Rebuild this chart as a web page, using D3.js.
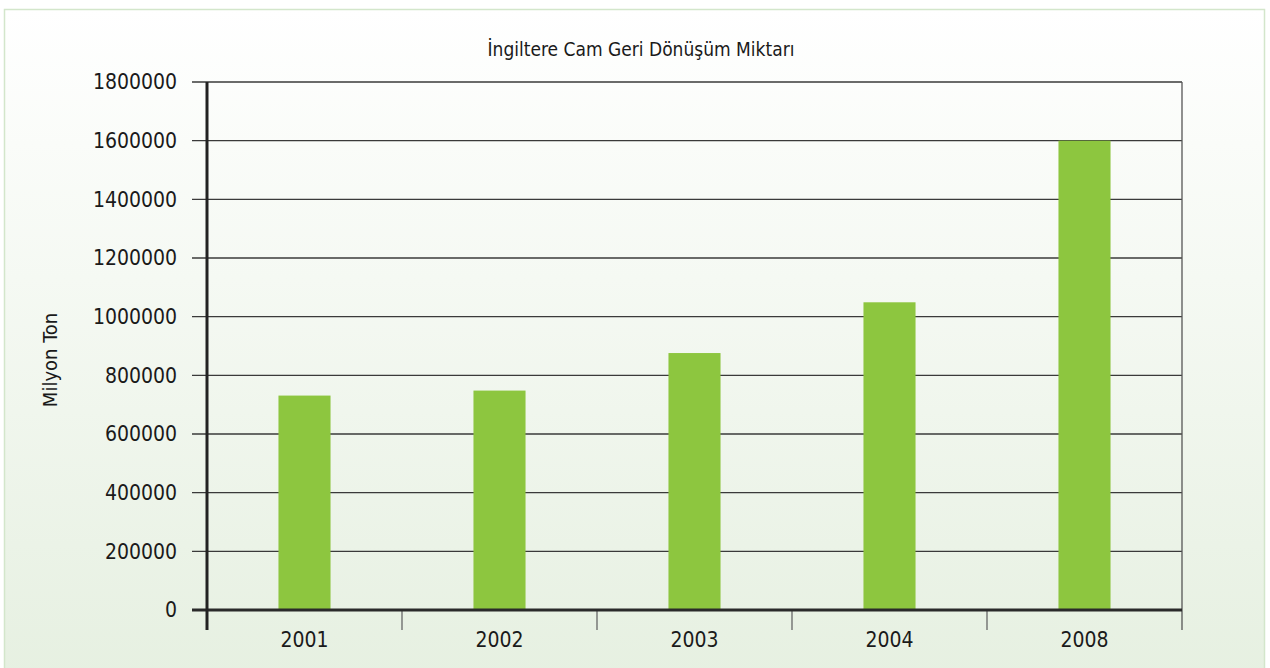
<!DOCTYPE html>
<html>
<head>
<meta charset="utf-8">
<script src="https://cdn.jsdelivr.net/npm/d3@7"></script>
<style>
  body { margin: 0; background: #fff; }
  text { font-family: "Liberation Sans Narrow", "DejaVu Sans Condensed", sans-serif; fill: #1a1a1a; }
</style>
</head>
<body>
<div id="barchart"></div>
<script>
// chart data
var years = ["2001", "2002", "2003", "2004", "2008"];
var tons = [731000, 748000, 876000, 1049000, 1600000];
var yTicks = [0, 200000, 400000, 600000, 800000, 1000000, 1200000, 1400000, 1600000, 1800000];

var data = years.map(function(y, i) { return {year: y, value: tons[i]}; });

// set the dimensions and margins of the graph
var W = 1270, H = 668;
var margin = {top: 82, right: 88, bottom: 58, left: 207},
    width = W - margin.left - margin.right,
    height = H - margin.top - margin.bottom;

var svg = d3.select("#barchart").append("svg")
    .attr("width", W)
    .attr("height", H);

// background gradient
var grad = svg.append("defs").append("linearGradient")
    .attr("id", "bg").attr("x1", 0).attr("y1", 0).attr("x2", 0).attr("y2", 1);
grad.append("stop").attr("offset", "0%").attr("stop-color", "#ffffff");
grad.append("stop").attr("offset", "100%").attr("stop-color", "#e6f0e1");

svg.append("rect")
    .attr("x", 4.5).attr("y", 9.5)
    .attr("width", 1260).attr("height", 670)
    .attr("fill", "url(#bg)")
    .attr("stroke", "#d3e6cb")
    .attr("stroke-width", 1.5);

var g = svg.append("g")
    .attr("transform", "translate(" + margin.left + "," + margin.top + ")");

// scales
var x = d3.scaleBand()
    .domain(years)
    .range([0, width])
    .paddingInner(0.733)
    .paddingOuter(0.3665);

var y = d3.scaleLinear()
    .domain([0, 1800000])
    .range([height, 0]);

// gridlines
g.selectAll(".grid")
    .data(yTicks.slice(1))
  .enter().append("line")
    .attr("class", "grid")
    .attr("x1", -15).attr("x2", width)
    .attr("y1", function(d) { return y(d); })
    .attr("y2", function(d) { return y(d); })
    .attr("stroke", "#3a3a3a")
    .attr("stroke-width", 1.3);

// right frame line
g.append("line")
    .attr("x1", width).attr("x2", width)
    .attr("y1", 0).attr("y2", height + 20)
    .attr("stroke", "#555").attr("stroke-width", 1.3);

// bars
g.selectAll(".bar")
    .data(data)
  .enter().append("rect")
    .attr("class", "bar")
    .attr("x", function(d) { return x(d.year); })
    .attr("width", x.bandwidth())
    .attr("y", function(d) { return y(d.value); })
    .attr("height", function(d) { return height - y(d.value); })
    .attr("fill", "#8dc63f");

// category separators below axis
var seps = d3.range(years.length);
g.selectAll(".sep")
    .data(seps.slice(1))
  .enter().append("line")
    .attr("class", "sep")
    .attr("x1", function(i) { return x.step() * i; })
    .attr("x2", function(i) { return x.step() * i; })
    .attr("y1", height).attr("y2", height + 20)
    .attr("stroke", "#666").attr("stroke-width", 1.3);

// x axis
var xAxis = g.append("g")
    .attr("transform", "translate(0," + height + ")")
    .call(d3.axisBottom(x).tickSize(0).tickPadding(22));
xAxis.select(".domain").remove();
xAxis.selectAll("text")
    .style("font-size", "21px")
    .attr("dy", "0.71em");

g.append("line")
    .attr("x1", -15).attr("x2", width)
    .attr("y1", height).attr("y2", height)
    .attr("stroke", "#2a2a2a").attr("stroke-width", 3);

// y axis
var yAxis = g.append("g")
    .call(d3.axisLeft(y).tickValues(yTicks).tickSize(0).tickPadding(30).tickFormat(d3.format("d")));
yAxis.select(".domain").remove();
yAxis.selectAll("text").style("font-size", "21px");

g.append("line")
    .attr("x1", 0).attr("x2", 0)
    .attr("y1", 0).attr("y2", height + 20)
    .attr("stroke", "#222").attr("stroke-width", 3);

// title
svg.append("text")
    .attr("x", 641)
    .attr("y", 56)
    .attr("text-anchor", "middle")
    .style("font-size", "19px")
    .text("İngiltere Cam Geri Dönüşüm Miktarı");

// y label
svg.append("text")
    .attr("transform", "translate(57,360) rotate(-90)")
    .attr("text-anchor", "middle")
    .style("font-size", "20px")
    .text("Milyon Ton");
</script>
</body>
</html>
